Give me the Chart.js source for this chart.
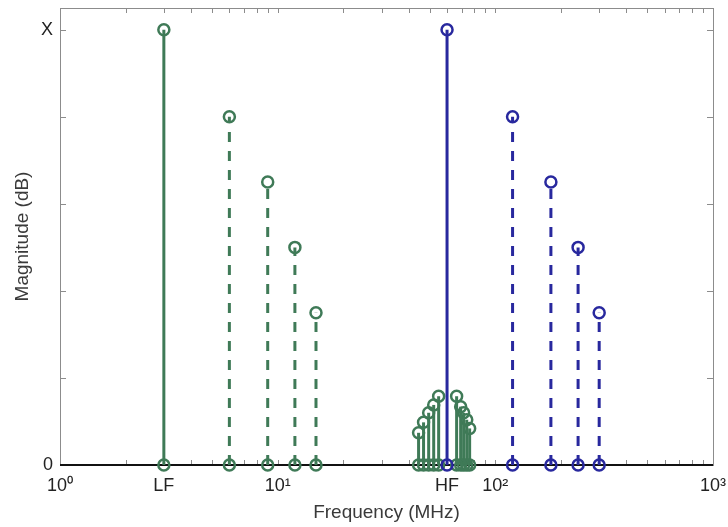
<!DOCTYPE html>
<html>
<head>
<meta charset="utf-8">
<script src="https://cdn.jsdelivr.net/npm/chart.js@4/dist/chart.umd.min.js"></script>
<style>
  html, body { margin: 0; padding: 0; background: #fff; }
  #wrap { width: 728px; height: 527px; }
</style>
</head>
<body>
<div id="wrap"><canvas id="chart" width="728" height="527"></canvas></div>
<script>
// carriers
const lfFreq = 3;
const hfFreq = 60;
const carrierLevel = 5;

// harmonics of each carrier
const lfHarmonicFreqs = [6, 9, 12, 15];
const hfHarmonicFreqs = [120, 180, 240, 300];
const harmonicLevels = [4, 3.25, 2.5, 1.75];

// intermodulation products around HF
const imdLowerFreqs = [44.4, 46.8, 49.4, 52.1, 54.9];
const imdLowerLevels = [0.37, 0.49, 0.6, 0.69, 0.79];
const imdUpperFreqs = [66.4, 69.3, 71.5, 73.9, 76.2];
const imdUpperLevels = [0.79, 0.67, 0.6, 0.52, 0.42];

// axis ticks
const xTickValues = [1,2,3,4,5,6,7,8,9,10,20,30,40,50,60,70,80,90,100,200,300,400,500,600,700,800,900,1000];
const xTickLabels = { 1: '10⁰', 3: 'LF', 10: '10¹', 60: 'HF', 100: '10²', 1000: '10³' };
const yTickValues = [0, 1, 2, 3, 4, 5];
const yTickLabels = { 0: '0', 5: 'X' };

const green = '#3f7a57';
const blue = '#28289e';

const stem = (freq, level, color, dashed) => ({
  data: [{ x: freq, y: 0 }, { x: freq, y: level }],
  showLine: true,
  borderColor: color,
  borderWidth: 3,
  borderDash: dashed ? [10, 9] : [],
  pointRadius: 5.5,
  pointBorderWidth: 2.5,
  pointBorderColor: color,
  pointBackgroundColor: 'rgba(0,0,0,0)',
  clip: false
});

const datasets = [];
datasets.push(stem(hfFreq, carrierLevel, blue, false));
hfHarmonicFreqs.forEach((f, i) => datasets.push(stem(f, harmonicLevels[i], blue, true)));
datasets.push(stem(lfFreq, carrierLevel, green, false));
lfHarmonicFreqs.forEach((f, i) => datasets.push(stem(f, harmonicLevels[i], green, true)));
imdLowerFreqs.forEach((f, i) => datasets.push(stem(f, imdLowerLevels[i], green, false)));
imdUpperFreqs.forEach((f, i) => datasets.push(stem(f, imdUpperLevels[i], green, false)));

// box, inward ticks and the zero baseline
const framePlugin = {
  id: 'frame',
  beforeDatasetsDraw(chart) {
    const { ctx, chartArea: a, scales } = chart;
    ctx.save();
    ctx.strokeStyle = '#8c8c8c';
    ctx.lineWidth = 1;
    ctx.strokeRect(a.left + 0.5, a.top + 0.5, a.right - a.left, a.bottom - a.top);
    ctx.beginPath();
    scales.x.ticks.forEach(t => {
      const px = Math.round(scales.x.getPixelForValue(t.value)) + 0.5;
      ctx.moveTo(px, a.bottom); ctx.lineTo(px, a.bottom - 5);
      ctx.moveTo(px, a.top); ctx.lineTo(px, a.top + 5);
    });
    scales.y.ticks.forEach(t => {
      const py = Math.round(scales.y.getPixelForValue(t.value)) + 0.5;
      ctx.moveTo(a.left, py); ctx.lineTo(a.left + 6, py);
      ctx.moveTo(a.right, py); ctx.lineTo(a.right - 6, py);
    });
    ctx.stroke();
    const y0 = scales.y.getPixelForValue(0);
    ctx.strokeStyle = '#111';
    ctx.lineWidth = 2;
    ctx.beginPath();
    ctx.moveTo(a.left, y0);
    ctx.lineTo(a.right, y0);
    ctx.stroke();
    ctx.restore();
  }
};

new Chart(document.getElementById('chart'), {
  type: 'scatter',
  data: { datasets },
  plugins: [framePlugin],
  options: {
    responsive: false,
    animation: false,
    devicePixelRatio: 1,
    layout: { padding: { top: 7, right: 15, left: 0, bottom: 0 } },
    plugins: { legend: { display: false }, tooltip: { enabled: false } },
    scales: {
      x: {
        type: 'logarithmic',
        min: 1,
        max: 1000,
        grid: { display: false, drawTicks: false, tickLength: 0 },
        border: { display: false },
        afterBuildTicks: (scale) => { scale.ticks = xTickValues.map(v => ({ value: v })); },
        afterFit: (scale) => {
          scale.height = 62;
          scale.paddingLeft = 0;
          scale.paddingRight = 0;
        },
        ticks: {
          autoSkip: false,
          maxRotation: 0,
          padding: 10,
          color: '#222',
          font: { family: 'Liberation Sans', size: 18 },
          callback: (v) => xTickLabels[v] || ''
        },
        title: {
          display: true,
          text: 'Frequency (MHz)',
          color: '#3a3a3a',
          font: { family: 'Liberation Sans', size: 19 },
          padding: { top: 0, bottom: 3 }
        }
      },
      y: {
        min: 0,
        max: 5.25,
        grid: { display: false, drawTicks: false, tickLength: 0 },
        border: { display: false },
        afterBuildTicks: (scale) => { scale.ticks = yTickValues.map(v => ({ value: v })); },
        afterFit: (scale) => {
          scale.width = 60;
          scale.paddingTop = 0;
          scale.paddingBottom = 0;
        },
        ticks: {
          padding: 7,
          color: '#222',
          font: { family: 'Liberation Sans', size: 18 },
          callback: (v) => yTickLabels[v] || ''
        },
        title: {
          display: true,
          text: 'Magnitude (dB)',
          color: '#3a3a3a',
          font: { family: 'Liberation Sans', size: 19 },
          padding: { top: 11, bottom: 0 }
        }
      }
    }
  }
});
</script>
</body>
</html>
